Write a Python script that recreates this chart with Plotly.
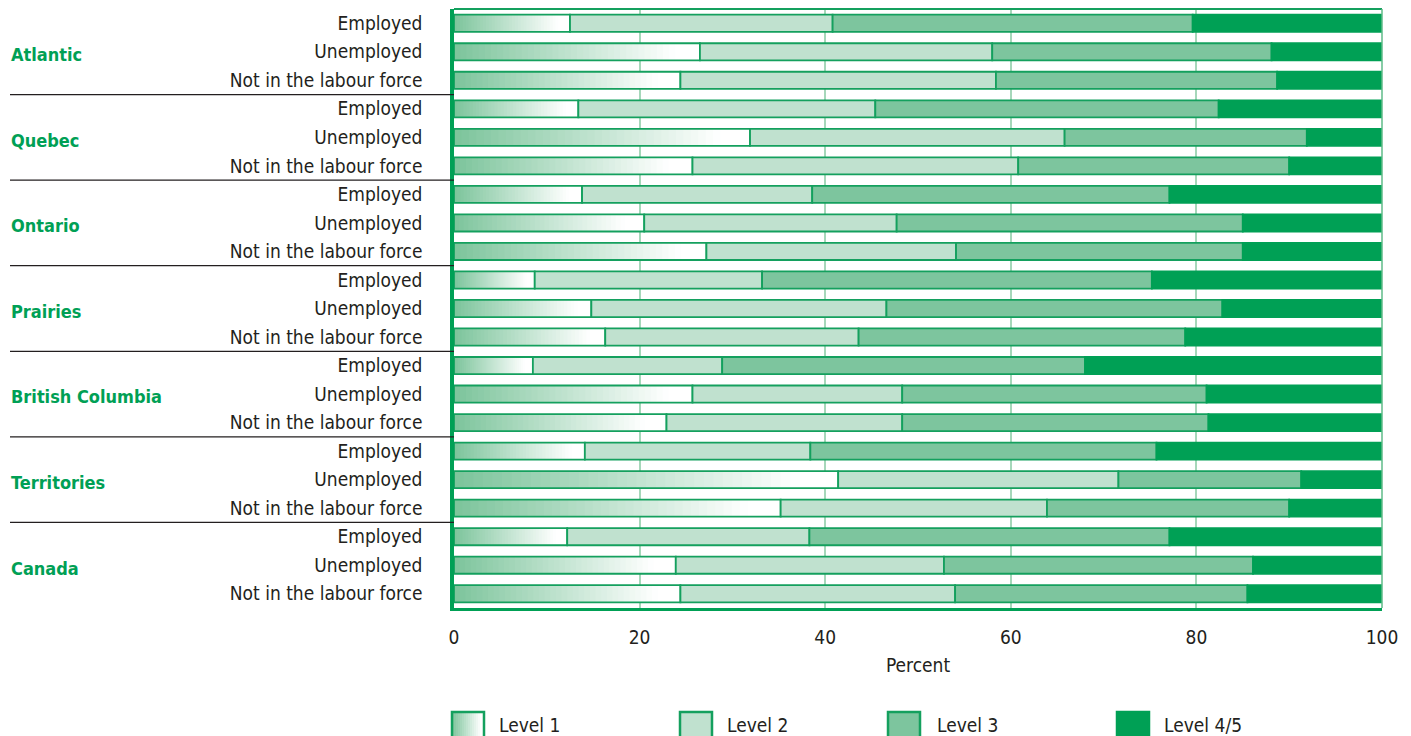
import plotly.graph_objects as go

regions = ["Atlantic", "Quebec", "Ontario", "Prairies", "British Columbia", "Territories", "Canada"]
statuses = ["Employed", "Unemployed", "Not in the labour force"]

# cumulative boundaries (percent)
level1 = [12.5, 26.5, 24.4, 13.4, 31.9, 25.7, 13.8, 20.5, 27.2, 8.7, 14.8, 16.3,
          8.5, 25.7, 22.9, 14.1, 41.4, 35.2, 12.2, 23.9, 24.4]
level12 = [40.8, 58.0, 58.4, 45.4, 65.8, 60.8, 38.6, 47.7, 54.1, 33.2, 46.6, 43.6,
           28.9, 48.3, 48.3, 38.4, 71.6, 63.9, 38.3, 52.8, 54.0]
level123 = [79.6, 88.1, 88.7, 82.4, 91.9, 90.0, 77.1, 85.0, 85.0, 75.2, 82.8, 78.8,
            68.0, 81.1, 81.3, 75.7, 91.3, 90.0, 77.1, 86.1, 85.5]
total = [100.0] * 21

level2 = [b - a for a, b in zip(level1, level12)]
level3 = [b - a for a, b in zip(level12, level123)]
level45 = [b - a for a, b in zip(level123, total)]

legend_names = ["Level 1", "Level 2", "Level 3", "Level 4/5"]
tick_values = [0, 20, 40, 60, 80, 100]

GREEN = "#00a055"
OUTLINE = "#14a05e"
C2 = "#c0e1cf"
C3 = "#7dc59e"
GRID = "#a6d7ba"
TXT = "#231f20"
FONT = "Liberation Sans Narrow, Arial Narrow, DejaVu Sans Condensed, sans-serif"

n_rows = len(regions) * len(statuses)
ypos = list(range(n_rows))
ticktext = statuses * len(regions)

G0 = (124, 196, 155)


def grad_color(f):
    t = min(1.0, f / 0.9)
    r = int(round(G0[0] + (255 - G0[0]) * t))
    g = int(round(G0[1] + (255 - G0[1]) * t))
    b = int(round(G0[2] + (255 - G0[2]) * t))
    return f"rgb({r},{g},{b})"


BW = 0.6
fig = go.Figure()

# Level 1 gradient pieces (overlapping to avoid seams)
N = 40
for k in range(N):
    bases = [v * k / N for v in level1]
    lens = [min(v * 2.0 / N, v - v * k / N) for v in level1]
    fig.add_trace(go.Bar(
        y=ypos, x=lens, base=bases,
        orientation="h", width=BW,
        marker=dict(color=grad_color((k + 0.5) / N), line=dict(width=0)),
        showlegend=False, hoverinfo="skip"))
# Level 1 outline
fig.add_trace(go.Bar(
    y=ypos, x=level1, base=[0] * n_rows, orientation="h", width=BW, name=legend_names[0],
    marker=dict(color="rgba(0,0,0,0)", line=dict(color=OUTLINE, width=1.8)),
    showlegend=False))
fig.add_trace(go.Bar(
    y=ypos, x=level2, base=level1, orientation="h", width=BW, name=legend_names[1],
    marker=dict(color=C2, line=dict(color=OUTLINE, width=1.8)), showlegend=False))
fig.add_trace(go.Bar(
    y=ypos, x=level3, base=level12, orientation="h", width=BW, name=legend_names[2],
    marker=dict(color=C3, line=dict(color=OUTLINE, width=1.8)), showlegend=False))
fig.add_trace(go.Bar(
    y=ypos, x=level45, base=level123, orientation="h", width=BW, name=legend_names[3],
    marker=dict(color=GREEN, line=dict(color=GREEN, width=1.8)), showlegend=False))

# geometry: page pixels (body has an 8px margin, so figure is offset)
OFF = 8
W, H = 1411 - OFF, 736 - OFF
PLOT_L, PLOT_R, PLOT_T, PLOT_B = 454, 1382, 9, 608  # page px
ML = PLOT_L - OFF
MR = (W + OFF) - PLOT_R
MT = PLOT_T - OFF
MB = (H + OFF) - PLOT_B
PW = PLOT_R - PLOT_L
PH = PLOT_B - PLOT_T


def px_x(p):
    return (p - PLOT_L) / PW


def px_y(p):
    return (PLOT_B - p) / PH


shapes = []
annotations = []

# region labels and separators
for g, reg in enumerate(regions):
    annotations.append(dict(
        x=px_x(9), xref="paper", y=g * 3 + 1.1, yref="y", text=f"<b>{reg}</b>",
        showarrow=False, xanchor="left", yanchor="middle",
        font=dict(family=FONT, size=18, color="#00a055")))
    if g < len(regions) - 1:
        shapes.append(dict(type="line", xref="paper", yref="y",
                           x0=px_x(10), x1=0, y0=g * 3 + 2.5, y1=g * 3 + 2.5,
                           line=dict(color=TXT, width=1.2)))

# custom legend
box_left = [452, 680, 888, 1117]
text_left = [497, 725, 935, 1162]
box_w, by0, by1 = 32, 712, 740
fills = [None, C2, C3, GREEN]
for i, name in enumerate(legend_names):
    x0 = box_left[i]
    if i == 0:
        M = 16
        for k in range(M):
            shapes.append(dict(type="rect", xref="paper", yref="paper",
                               x0=px_x(x0 + box_w * k / M), x1=px_x(x0 + box_w * (k + 1.5) / M) if k < M - 1 else px_x(x0 + box_w),
                               y0=px_y(by1), y1=px_y(by0),
                               fillcolor=grad_color((k + 0.5) / M), line=dict(width=0)))
        shapes.append(dict(type="rect", xref="paper", yref="paper",
                           x0=px_x(x0), x1=px_x(x0 + box_w), y0=px_y(by1), y1=px_y(by0),
                           fillcolor="rgba(0,0,0,0)", line=dict(color=OUTLINE, width=2.5)))
    else:
        shapes.append(dict(type="rect", xref="paper", yref="paper",
                           x0=px_x(x0), x1=px_x(x0 + box_w), y0=px_y(by1), y1=px_y(by0),
                           fillcolor=fills[i], line=dict(color=OUTLINE if i < 3 else GREEN, width=2.5)))
    annotations.append(dict(
        x=px_x(text_left[i]), xref="paper", y=px_y(725), yref="paper", text=name,
        showarrow=False, xanchor="left", yanchor="middle",
        font=dict(family=FONT, size=19, color=TXT)))

# top and right frame lines
shapes.append(dict(type="line", xref="paper", yref="paper", x0=0, x1=1, y0=1, y1=1,
                   line=dict(color=OUTLINE, width=1.8)))
shapes.append(dict(type="line", xref="paper", yref="paper", x0=1, x1=1, y0=0, y1=1,
                   line=dict(color="#5fbb88", width=1.5)))

fig.update_layout(
    width=W, height=H,
    margin=dict(l=ML, r=MR, t=MT, b=MB, pad=0),
    barmode="overlay",
    plot_bgcolor="white", paper_bgcolor="white",
    font=dict(family=FONT, size=19, color=TXT),
    showlegend=False,
    shapes=shapes,
    annotations=annotations,
    xaxis=dict(range=[0, 100], tickvals=tick_values, ticktext=[str(v) for v in tick_values],
               showgrid=True, gridcolor=GRID, gridwidth=1.5, zeroline=False,
               showline=True, linecolor=GREEN, linewidth=3,
               ticks="", ticklabelstandoff=10,
               tickfont=dict(family=FONT, size=19, color=TXT),
               title=dict(text="Percent", standoff=12,
                          font=dict(family=FONT, size=19, color=TXT)),
               fixedrange=True),
    yaxis=dict(range=[n_rows - 0.5, -0.5], tickvals=ypos, ticktext=ticktext,
               showgrid=False, zeroline=False,
               showline=True, linecolor=GREEN, linewidth=3.5,
               ticks="", ticklabelstandoff=24,
               tickfont=dict(family=FONT, size=19, color=TXT),
               fixedrange=True),
)

fig.write_html("out.html")
